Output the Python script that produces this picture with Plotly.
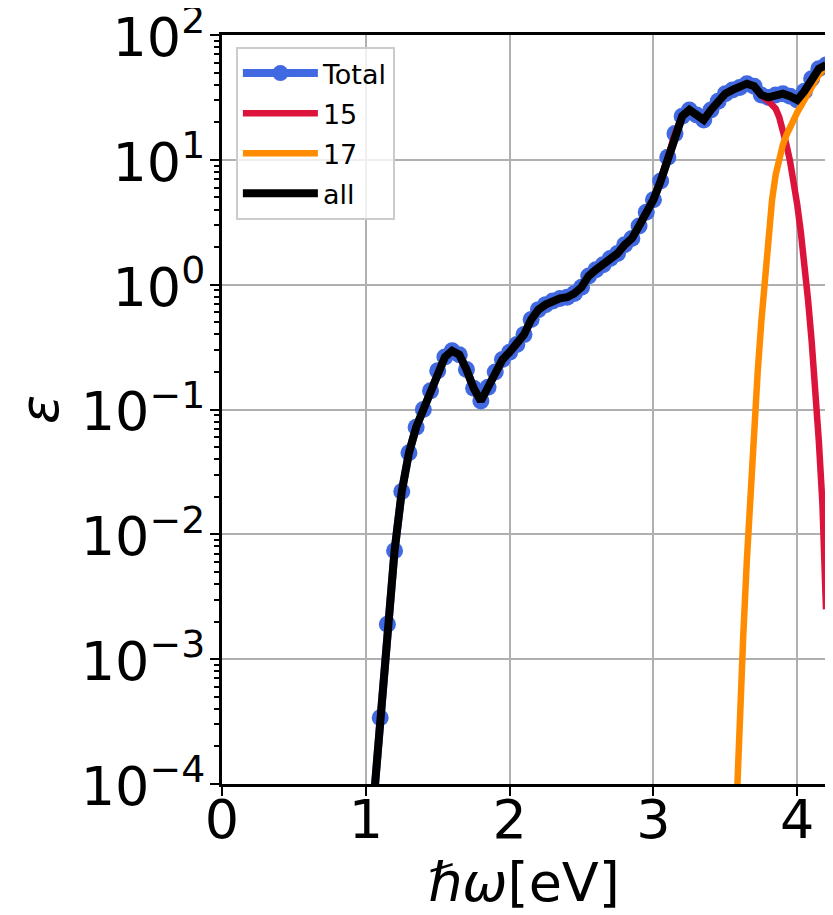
import plotly.graph_objects as go

# photon energy grid (eV)
energy = [1.05, 1.10, 1.15, 1.20, 1.25, 1.30, 1.35, 1.40, 1.45, 1.50,
          1.55, 1.60, 1.65, 1.70, 1.75, 1.80, 1.85, 1.90, 1.95, 2.00,
          2.05, 2.10, 2.15, 2.20, 2.25, 2.30, 2.35, 2.40, 2.45, 2.50,
          2.55, 2.60, 2.65, 2.70, 2.75, 2.80, 2.85, 2.90, 2.95, 3.00,
          3.05, 3.10, 3.15, 3.20, 3.25, 3.30, 3.35, 3.40, 3.45, 3.50,
          3.55, 3.60, 3.65, 3.70, 3.75, 3.80, 3.85, 3.90, 3.95, 4.00,
          4.05, 4.10, 4.15, 4.20]

total = [6.3e-5, 3.4e-4, 1.9e-3, 7.4e-3, 0.022, 0.045, 0.072, 0.100, 0.141, 0.204,
         0.263, 0.295, 0.275, 0.209, 0.148, 0.117, 0.151, 0.200, 0.251, 0.288,
         0.331, 0.398, 0.525, 0.631, 0.692, 0.741, 0.776, 0.794, 0.851, 0.955,
         1.175, 1.318, 1.445, 1.622, 1.778, 2.089, 2.344, 2.951, 3.802, 4.786,
         6.761, 10.47, 16.22, 22.39, 25.12, 22.91, 20.89, 25.12, 29.51, 33.88,
         36.31, 38.02, 40.74, 38.90, 33.11, 31.62, 33.11, 33.88, 32.36, 30.20,
         35.48, 44.67, 53.70, 57.54]

# series "15": follows the total up to 3.70 eV, then a steep cutoff
tail_energy_15 = [3.725, 3.75, 3.775, 3.80, 3.825, 3.85, 3.875, 3.90, 3.925, 3.95,
                  3.975, 4.00, 4.025, 4.05, 4.075, 4.10, 4.125, 4.15, 4.175, 4.20]
tail_eps_15 = [35.9, 32.4, 30.9, 29.5, 27.5, 25.7, 21.9, 17.4, 13.2, 9.77,
               6.76, 4.37, 2.63, 1.48, 0.759, 0.355, 0.151, 0.0562, 0.0178, 0.00251]
energy_15 = energy[:54] + tail_energy_15
eps_15 = total[:54] + tail_eps_15

# series "17": onset near 3.6 eV
energy_17 = [3.55, 3.575, 3.60, 3.625, 3.65, 3.675, 3.70, 3.725, 3.75, 3.775,
             3.80, 3.825, 3.85, 3.875, 3.90, 3.925, 3.95, 3.975, 4.00, 4.05,
             4.10, 4.15, 4.20]
eps_17 = [1.0e-5, 6.31e-5, 3.55e-4, 1.58e-3, 6.31e-3, 0.0224, 0.0708, 0.200, 0.501, 1.17,
          2.63, 4.79, 7.59, 10.5, 13.2, 15.8, 18.6, 21.4, 24.0, 30.2,
          38.0, 47.9, 56.2]

x_ticks = [0, 1, 2, 3, 4]
y_tickvals = [1e-4, 1e-3, 1e-2, 1e-1, 1e0, 1e1, 1e2]
y_ticktext = ["10<sup>−4</sup>", "10<sup>−3</sup>", "10<sup>−2</sup>", "10<sup>−1</sup>",
              "10<sup>0</sup>", "10<sup>1</sup>", "10<sup>2</sup>"]

fig = go.Figure()
fig.add_trace(go.Scatter(x=energy, y=total, name="Total", mode="lines+markers",
                         legendgroup="g1",
                         line=dict(color="#4169E1", width=8),
                         marker=dict(color="#4169E1", size=17)))
fig.add_trace(go.Scatter(x=energy_15, y=eps_15, name="15", mode="lines",
                         legendgroup="g2",
                         line=dict(color="#DC143C", width=6.5)))
fig.add_trace(go.Scatter(x=energy_17, y=eps_17, name="17", mode="lines",
                         legendgroup="g3",
                         line=dict(color="#FF8C00", width=6.5)))
fig.add_trace(go.Scatter(x=energy, y=total, name="all", mode="lines",
                         legendgroup="g4",
                         line=dict(color="black", width=8)))

axis_common = dict(showline=True, linewidth=3, linecolor="black", mirror=True,
                   ticks="outside", ticklen=9, tickwidth=2, tickcolor="black",
                   showgrid=True, gridcolor="#b0b0b0", gridwidth=2, zeroline=False,
                   automargin=False, ticklabeloverflow="allow",
                   tickfont=dict(size=54, color="black", family="DejaVu Sans"))

fig.update_xaxes(range=[0, 4.2], tickvals=x_ticks, ticklabelstandoff=-23,
                 title=dict(text="<i>ℏω</i>[eV]", font=dict(size=54, family="DejaVu Sans"), standoff=10),
                 **axis_common)
fig.update_yaxes(type="log", range=[-4.0001, 2.0001], tickvals=y_tickvals, ticktext=y_ticktext,
                 ticklabelstandoff=-6, ticklabelshift=2,
                 minor=dict(ticks="outside", ticklen=5, tickwidth=1.5, tickcolor="black",
                            dtick="D1", showgrid=False),
                 title=dict(text="<i>ε</i>", font=dict(size=54, family="DejaVu Sans"), standoff=14),
                 **axis_common)

# the page adds an 8 px body margin, so the figure is sized to fit the 833x915 window
fig.update_layout(width=825, height=907,
                  margin=dict(l=214, r=7, t=27, b=131),
                  plot_bgcolor="white", paper_bgcolor="white",
                  font=dict(family="DejaVu Sans", color="black"),
                  showlegend=True,
                  legend=dict(x=0.023, y=0.984, xanchor="left", yanchor="top",
                              bgcolor="rgba(255,255,255,0.8)", bordercolor="#cccccc",
                              borderwidth=2, font=dict(size=27, family="DejaVu Sans"),
                              itemwidth=75, tracegroupgap=2))

fig.write_html("out.html")
